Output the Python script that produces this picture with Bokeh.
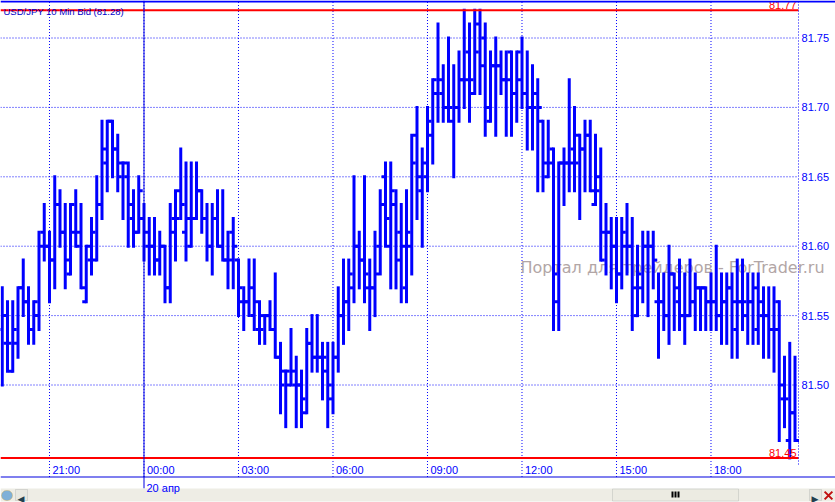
from bokeh.plotting import figure
from bokeh.embed import file_html
from bokeh.resources import INLINE
from bokeh.models import Range1d, FixedTicker, LinearAxis, BoxAnnotation, Label, ColumnDataSource, NumeralTickFormatter
from bokeh.core.properties import value

TITLE = "USD/JPY 10 Min Bid (81.28)"
WATERMARK = "Портал для трейдеров - ForTrader.ru"
BASE = 81.0
# prices in hundredths above BASE, one entry per 10 minute bar
HIGH = [57,56,56,57,59,57,56,61,63,61,65,64,63,63,64,63,60,62,65,69,69,69,68,66,66,64,65,63,62,62,61,60,63,64,67,66,66,66,64,
        63,63,64,64,61,62,59,57,59,59,56,55,56,58,53,51,54,52,51,54,55,55,53,53,53,57,59,59,65,61,65,59,61,64,66,66,64,63,64,
        68,70,67,70,72,76,73,75,73,74,77,76,77,77,76,74,75,74,74,74,74,75,74,73,72,69,69,67,66,67,72,70,68,69,69,68,67,63,
        62,62,62,63,62,60,61,61,61,58,58,60,58,59,58,59,58,57,57,58,60,58,58,58,59,59,58,58,58,57,57,57,56,52,53,52]
LOW = [50,51,51,52,55,53,53,54,59,56,57,60,57,58,60,57,56,58,59,62,64,65,64,62,60,60,61,59,58,58,58,56,56,59,62,59,60,62,61,
       59,58,60,59,57,57,55,54,55,54,53,53,54,52,48,47,50,47,47,48,51,51,49,47,48,51,53,54,56,57,56,54,55,58,60,57,57,56,56,
       58,62,60,64,66,69,69,69,65,69,70,69,71,71,68,69,68,71,68,68,69,70,67,67,64,64,65,54,54,63,64,64,62,64,64,63,59,58,
       57,56,57,58,54,55,56,55,57,52,54,53,54,54,53,55,54,54,54,54,54,53,53,52,52,54,53,53,53,52,52,51,46,47,44.75,46]
OPEN = [54,53,51,53,57,56,54,55,61,60,59,63,61,58,61,61,56,59,59,63,66,69,67,66,65,62,61,62,60,60,59,60,57,62,64,61,60,62,64,
        62,60,62,60,59,61,59,56,56,55,54,55,55,54,52,51,50,50,50,48,53,52,52,51,49,52,55,56,57,60,59,57,57,60,65,60,63,61,57,
        60,68,64,65,68,71,71,70,69,70,72,74,71,76,75,69,73,73,72,74,71,72,71,70,71,69,65,67,56,66,66,67,68,67,68,63,65,61,
        61,60,58,60,60,55,57,60,60,56,56,55,58,56,55,55,56,57,57,56,56,55,56,57,54,56,55,56,54,55,55,54,56,49,46,48]
CLOSE = [55,53,54,57,56,54,56,60,60,59,63,61,59,63,60,57,60,61,63,67,69,67,65,66,63,61,64,61,60,59,60,57,61,62,63,62,62,64,62,
         60,62,60,59,59,60,57,56,57,56,54,55,54,52,50,51,51,50,49,53,52,52,52,50,52,55,56,58,60,59,58,57,58,63,62,64,59,60,61,
         66,65,66,69,72,72,70,70,70,72,72,72,74,73,70,73,73,72,72,71,74,71,70,70,70,66,66,58,66,66,66,66,67,68,64,64,59,61,
         60,58,61,60,57,58,60,60,59,56,55,58,57,55,55,56,57,57,56,56,55,56,57,56,56,56,56,57,56,55,54,54,50,49,48,46]
PRICE_TICKS = [81.50, 81.55, 81.60, 81.65, 81.70, 81.75]
TIME_TICKS = [9, 27, 45, 63, 81, 99, 117, 135]
TIME_LABELS = ["21:00", "00:00", "03:00", "06:00", "09:00", "12:00", "15:00", "18:00"]
DAY_TICK = 27
DAY_LABEL = "20 апр"
MAX_LINE = 81.77
MIN_LINE = 81.4475
MAX_LABEL = "81.77"
MIN_LABEL = "81.45"

BLUE = "#0000ff"
RED = "#ff0000"
FONT = "Liberation Sans"

X0, X1 = -0.3333, 158.7143      # whole canvas in bar units
Y0, Y1 = 81.41535, 81.77702     # whole canvas in price
PANE_RIGHT = 151.67             # right edge of the price pane
PANE_BOTTOM = 81.4337           # lower edge of the price pane

p = figure(width=835, height=502, output_backend="svg", toolbar_location=None,
           x_range=Range1d(X0, X1), y_range=Range1d(Y0, Y1),
           min_border_left=0, min_border_right=0, min_border_top=0, min_border_bottom=0,
           x_axis_type=None, y_axis_type=None, outline_line_color=None, background_fill_color="white")
p.grid.visible = False

# price axis sits inside the canvas at the pane's right edge
yaxis = LinearAxis(ticker=FixedTicker(ticks=PRICE_TICKS), bounds=(81.443, Y1), fixed_location=PANE_RIGHT,
                   formatter=NumeralTickFormatter(format="0.00"))
yaxis.axis_line_color = BLUE
yaxis.axis_line_dash = "1 2"
yaxis.major_tick_line_color = None
yaxis.minor_tick_line_color = None
yaxis.major_tick_out = 0
yaxis.major_tick_in = 0
yaxis.major_label_text_color = BLUE
yaxis.major_label_text_font = FONT
yaxis.major_label_text_font_size = "11px"
yaxis.major_label_standoff = 3
p.add_layout(yaxis, "right")

# dotted grid
p.segment(x0=[X0] * len(PRICE_TICKS), y0=PRICE_TICKS, x1=[PANE_RIGHT] * len(PRICE_TICKS), y1=PRICE_TICKS,
          line_color=BLUE, line_width=1, line_dash="1 2", level="underlay")
p.segment(x0=TIME_TICKS, y0=[PANE_BOTTOM] * len(TIME_TICKS), x1=TIME_TICKS, y1=[Y1] * len(TIME_TICKS),
          line_color=BLUE, line_width=1, line_dash="1 2", level="underlay")

# watermark beneath the bars
p.add_layout(Label(x=520, y=267, x_units="canvas", y_units="canvas", text=WATERMARK, level="underlay",
                   text_font="DejaVu Sans", text_font_size="16px", text_color="#b2a6a6", text_baseline="alphabetic"))

# bars
xs = list(range(len(HIGH)))
src = ColumnDataSource(dict(
    x=xs,
    h=[BASE + v / 100 for v in HIGH],
    l=[BASE + v / 100 for v in LOW],
    o=[BASE + v / 100 for v in OPEN],
    c=[BASE + v / 100 for v in CLOSE],
    xl=[i - 0.76 for i in xs],
    xr=[i + 0.76 for i in xs],
))
p.segment("x", "l", "x", "h", source=src, line_color=BLUE, line_width=3, line_cap="square")
p.segment("xl", "o", "x", "o", source=src, line_color=BLUE, line_width=3)
p.segment("x", "c", "xr", "c", source=src, line_color=BLUE, line_width=3)

# day separator and extreme lines
p.segment(x0=[X0, X0], y0=[MAX_LINE, MIN_LINE], x1=[PANE_RIGHT, PANE_RIGHT], y1=[MAX_LINE, MIN_LINE],
          line_color=RED, line_width=2)
p.segment(x0=[DAY_TICK], y0=[PANE_BOTTOM], x1=[DAY_TICK], y1=[Y1], line_color="#0000e0", line_width=1)

# texts on the plot
p.text(TIME_TICKS, [PANE_BOTTOM] * len(TIME_TICKS), text=TIME_LABELS, x_offset=3, y_offset=-1,
       text_color=BLUE, text_font=value(FONT), text_font_size="11px", text_baseline="bottom")
p.text([PANE_RIGHT], [MAX_LINE], text=[MAX_LABEL], x_offset=-2, y_offset=-1, text_color=RED,
       text_font=value(FONT), text_font_size="11px", text_align="right", text_baseline="bottom")
p.text([PANE_RIGHT], [MIN_LINE], text=[MIN_LABEL], x_offset=-2, y_offset=-1, text_color=RED,
       text_font=value(FONT), text_font_size="11px", text_align="right", text_baseline="bottom")

def canvas_box(l, r, t, b, fill, line=None, **kw):
    p.add_layout(BoxAnnotation(left=l, right=r, top=t, bottom=b,
                               left_units="canvas", right_units="canvas", top_units="canvas", bottom_units="canvas",
                               fill_color=fill, fill_alpha=1, line_color=line, **kw))

def canvas_label(x, y, text, color=BLUE, size="11px", font=FONT, **kw):
    p.add_layout(Label(x=x, y=y, x_units="canvas", y_units="canvas", text=text, text_color=color,
                       text_font=font, text_font_size=size, **kw))

# window chrome
canvas_box(0, 835, 0, 2, BLUE)
canvas_box(0, 835, 476, 477, "#0000e0")
canvas_box(143, 144, 476, 488, "#0000e0")
canvas_box(0, 835, 488, 501, "#eeede5")
canvas_box(612, 738, 488.5, 500.5, "#ecebe2", "#9aa0a0")
canvas_box(671, 673, 491, 497, "#000000")
canvas_box(674, 676, 491, 497, "#000000")
canvas_box(677, 679, 491, 497, "#000000")
canvas_box(15, 27, 489, 500, "#e8e8e0", "#9aa0a0")
canvas_box(809, 821, 489, 500, "#e8e8e0", "#9aa0a0")
canvas_box(1, 12, 490, 500, "#7fb0d8", "#d8a020", border_radius=5)
canvas_label(17, 498, "◀", color="#23404f", size="9px", font="DejaVu Sans", text_baseline="alphabetic")
canvas_label(811, 498, "▶", color="#23404f", size="9px", font="DejaVu Sans", text_baseline="alphabetic")

canvas_label(146, 487, DAY_LABEL, text_baseline="alphabetic")
canvas_label(3, 11, TITLE, color="#0000c8", size="9.5px", text_baseline="alphabetic")

# close icon, drawn over the chrome
close_icon = p.scatter(x=[157.38], y=[81.4204], marker="x", size=11, line_color="#c01010", line_width=2)
close_icon.level = "overlay"

open("out.html", "w").write(file_html(p, INLINE))
